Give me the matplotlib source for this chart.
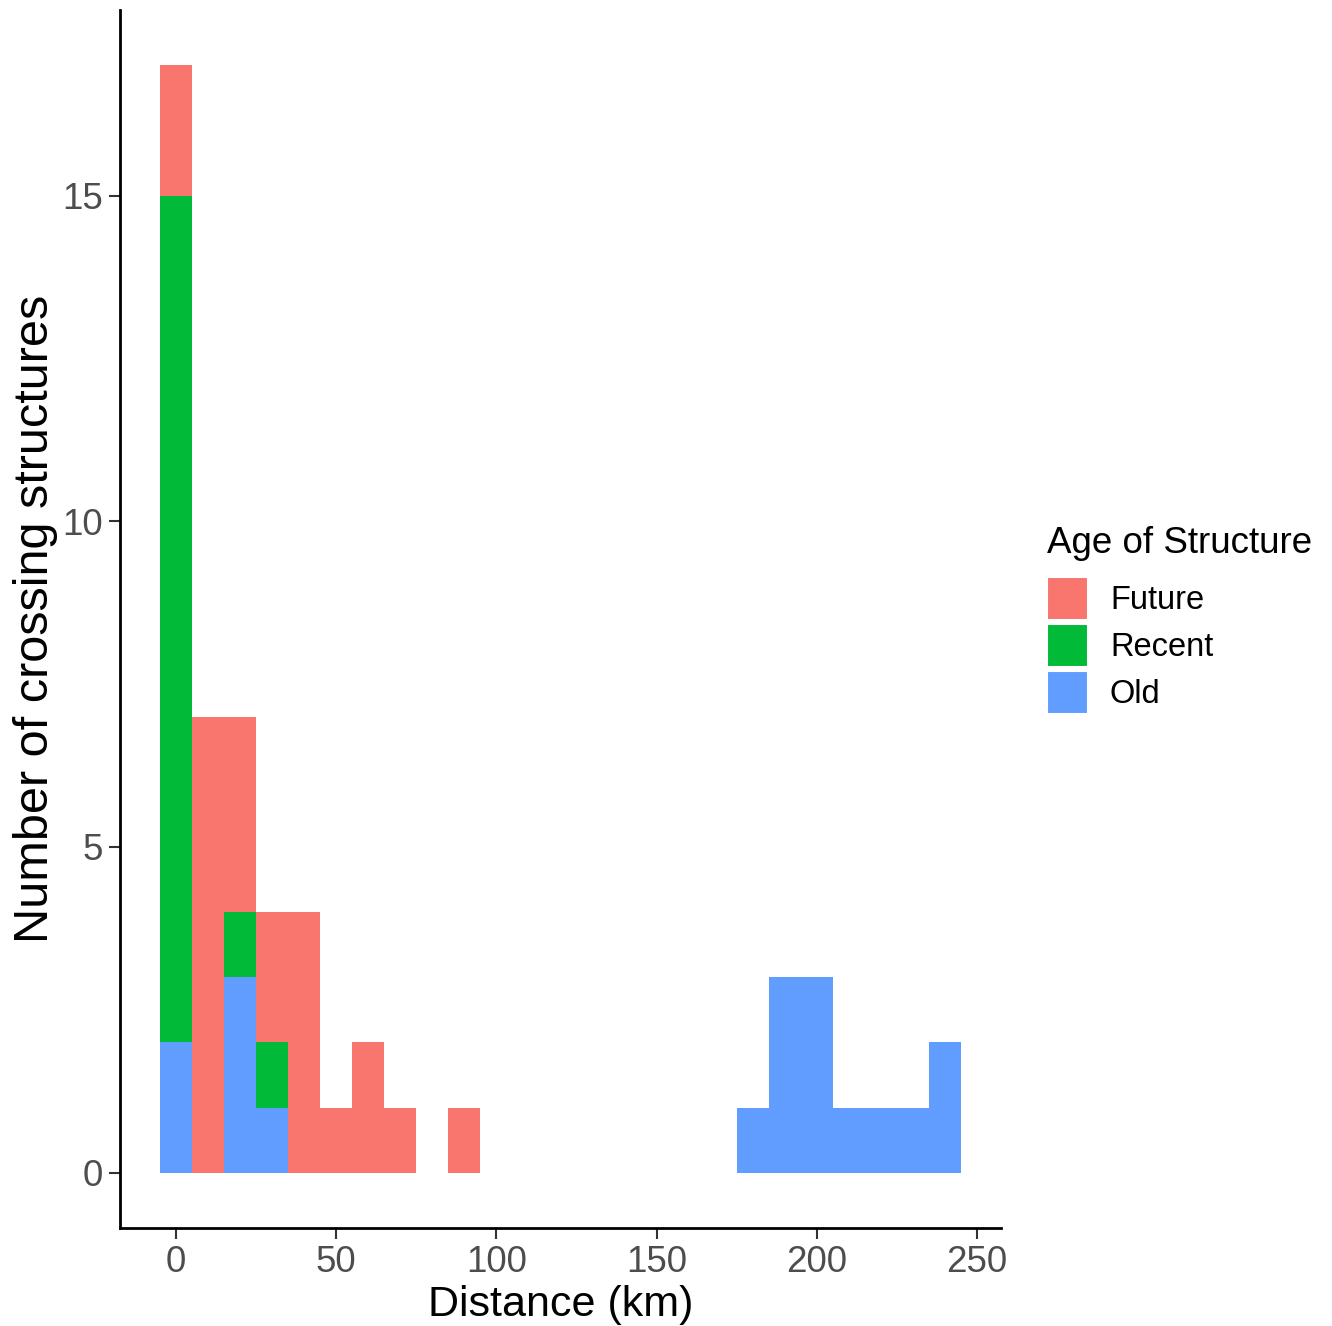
import numpy as np
import matplotlib.pyplot as plt
from matplotlib.patches import Patch

plt.rcParams['font.family'] = ['Liberation Sans', 'DejaVu Sans']

# histogram bins (centres, km), binwidth 10
centres = [0, 10, 20, 30, 40, 50, 60, 70, 80, 90,
           180, 190, 200, 210, 220, 230, 240]
old    = [2, 0, 3, 1, 0, 0, 0, 0, 0, 0, 1, 3, 3, 1, 1, 1, 2]
recent = [13, 0, 1, 1, 0, 0, 0, 0, 0, 0, 0, 0, 0, 0, 0, 0, 0]
future = [2, 7, 3, 2, 4, 1, 2, 1, 0, 1, 0, 0, 0, 0, 0, 0, 0]

col_future = '#F8766D'
col_recent = '#00BA38'
col_old = '#619CFF'

fig = plt.figure(figsize=(13.32, 13.26), dpi=100)
ax = fig.add_axes([0.0901, 0.0739, 0.6614, 0.9186])

old = np.array(old)
recent = np.array(recent)
future = np.array(future)
ax.bar(centres, old, width=10, color=col_old, linewidth=0)
ax.bar(centres, recent, width=10, bottom=old, color=col_recent, linewidth=0)
ax.bar(centres, future, width=10, bottom=old + recent, color=col_future, linewidth=0)

ax.set_xlim(-17.5, 257.5)
ax.set_ylim(-0.85, 17.85)
ax.set_xticks([0, 50, 100, 150, 200, 250])
ax.set_yticks([0, 5, 10, 15])

for s in ['top', 'right']:
    ax.spines[s].set_visible(False)
for s in ['left', 'bottom']:
    ax.spines[s].set_linewidth(2)
    ax.spines[s].set_color('black')
ax.tick_params(axis='both', length=8, width=1.5, color='#333333',
               labelsize=26.5, labelcolor='#4D4D4D', pad=4)

ax.set_xlabel('Distance (km)', fontsize=31, labelpad=4)
ax.set_ylabel('Number of crossing structures', fontsize=35, labelpad=3)

handles = [Patch(facecolor=col_future, edgecolor='white', linewidth=1.5),
           Patch(facecolor=col_recent, edgecolor='white', linewidth=1.5),
           Patch(facecolor=col_old, edgecolor='white', linewidth=1.5)]
leg = fig.legend(handles, ['Future', 'Recent', 'Old'], title='Age of Structure',
                 loc='upper left', bbox_to_anchor=(0.786, 0.603),
                 frameon=False, fontsize=23.5, title_fontsize=26.5,
                 handlelength=1.26, handleheight=1.68, labelspacing=0.1,
                 handletextpad=0.67, borderpad=0, borderaxespad=0)
leg._legend_box.align = 'left'
leg._legend_box.sep = 11

fig.savefig('out.png', dpi=100)
